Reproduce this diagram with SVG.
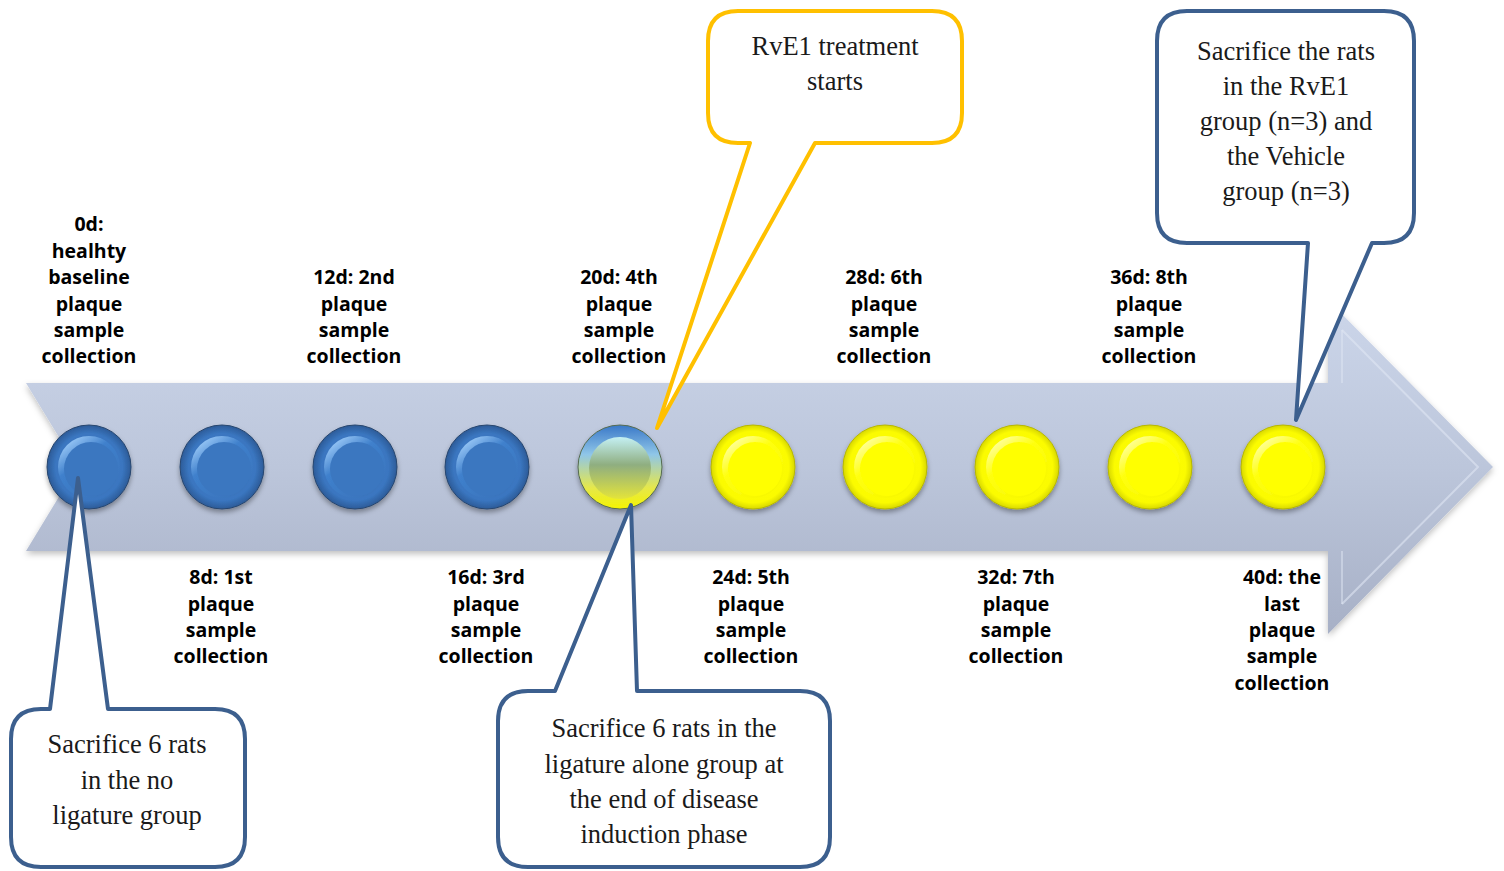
<svg xmlns="http://www.w3.org/2000/svg" width="1504" height="871" viewBox="0 0 1504 871">
<defs>
<linearGradient id="arrowG" x1="0" y1="0" x2="0" y2="1">
<stop offset="0" stop-color="#ccd6ea"/>
<stop offset="0.5" stop-color="#bcc6db"/>
<stop offset="1" stop-color="#a7b0c6"/>
</linearGradient>
<radialGradient id="blueOuter" cx="0.5" cy="0.5" r="0.5">
<stop offset="0" stop-color="#3d7bc8"/>
<stop offset="0.8" stop-color="#3a76c0"/>
<stop offset="1" stop-color="#2c5b98"/>
</radialGradient>
<linearGradient id="blueInner" x1="0.2" y1="0.1" x2="0.8" y2="0.9">
<stop offset="0" stop-color="#8fc0f2"/>
<stop offset="0.35" stop-color="#3f80cc"/>
<stop offset="1" stop-color="#3a75bd"/>
</linearGradient>
<radialGradient id="yelOuter" cx="0.5" cy="0.5" r="0.5">
<stop offset="0" stop-color="#ffff00"/>
<stop offset="0.85" stop-color="#fbfb00"/>
<stop offset="1" stop-color="#d8d800"/>
</radialGradient>
<linearGradient id="yelInner" x1="0.2" y1="0.1" x2="0.8" y2="0.9">
<stop offset="0" stop-color="#ffff90"/>
<stop offset="0.35" stop-color="#ffff10"/>
<stop offset="1" stop-color="#f8f800"/>
</linearGradient>
<linearGradient id="mixOuter" x1="0" y1="0" x2="0" y2="1">
<stop offset="0" stop-color="#3a78c8"/>
<stop offset="0.35" stop-color="#8fc6e8"/>
<stop offset="0.75" stop-color="#e6e84a"/>
<stop offset="1" stop-color="#f4f400"/>
</linearGradient>
<linearGradient id="mixInner" x1="0" y1="0" x2="0" y2="1">
<stop offset="0" stop-color="#c4f0f4"/>
<stop offset="0.45" stop-color="#8fae80"/>
<stop offset="1" stop-color="#e4e43a"/>
</linearGradient>
<filter id="sh" x="-20%" y="-20%" width="140%" height="150%">
<feDropShadow dx="0" dy="3" stdDeviation="2.5" flood-color="#000" flood-opacity="0.35"/>
</filter>
<filter id="ash" x="-5%" y="-15%" width="110%" height="130%">
<feDropShadow dx="0" dy="3" stdDeviation="3" flood-color="#000" flood-opacity="0.25"/>
</filter>
</defs>
<style>
.lbl{font-family:"Open Sans","Noto Sans","DejaVu Sans",sans-serif;font-weight:bold;font-size:19.5px;fill:#000;text-anchor:middle}
.ct{font-family:"Liberation Serif","Times New Roman",serif;font-size:26.5px;fill:#1a1a1a;text-anchor:middle}
.cb{fill:#fff;stroke:#3c5f8e;stroke-width:4;stroke-linejoin:round}
.cy{fill:#fff;stroke:#ffc000;stroke-width:4;stroke-linejoin:round}
.rim{stroke:#28466f;stroke-width:1}
.rimy{stroke:#b8b800;stroke-width:1}
</style>

<g id="timeline-arrow">
<polygon points="26,383 1328,383 1328,300 1493,467 1328,634 1328,551 26,551 77,467" fill="url(#arrowG)" filter="url(#ash)"/>
<polyline points="1342,330 1478,467 1342,604" fill="none" stroke="#dfe6f3" stroke-width="2" opacity="0.6"/>
<line x1="1342" y1="330" x2="1342" y2="383" stroke="#dfe6f3" stroke-width="2" opacity="0.5"/>
<line x1="1342" y1="551" x2="1342" y2="604" stroke="#dfe6f3" stroke-width="2" opacity="0.5"/>
</g>

<g id="dot-0d" filter="url(#sh)">
<circle cx="89" cy="467" r="42" fill="url(#blueOuter)" class="rim"/>
<circle cx="89" cy="467" r="31" fill="url(#blueInner)"/>
<circle cx="91" cy="469" r="27" fill="#3b77c0"/>
</g>
<g id="dot-8d" filter="url(#sh)">
<circle cx="222" cy="467" r="42" fill="url(#blueOuter)" class="rim"/>
<circle cx="222" cy="467" r="31" fill="url(#blueInner)"/>
<circle cx="224" cy="469" r="27" fill="#3b77c0"/>
</g>
<g id="dot-12d" filter="url(#sh)">
<circle cx="355" cy="467" r="42" fill="url(#blueOuter)" class="rim"/>
<circle cx="355" cy="467" r="31" fill="url(#blueInner)"/>
<circle cx="357" cy="469" r="27" fill="#3b77c0"/>
</g>
<g id="dot-16d" filter="url(#sh)">
<circle cx="487" cy="467" r="42" fill="url(#blueOuter)" class="rim"/>
<circle cx="487" cy="467" r="31" fill="url(#blueInner)"/>
<circle cx="489" cy="469" r="27" fill="#3b77c0"/>
</g>
<g id="dot-20d" filter="url(#sh)">
<circle cx="620" cy="467" r="42" fill="url(#mixOuter)" stroke="#556b50" stroke-width="1"/>
<circle cx="620" cy="468" r="31" fill="url(#mixInner)"/>
</g>
<g id="dot-24d" filter="url(#sh)">
<circle cx="753" cy="467" r="42" fill="url(#yelOuter)" class="rimy"/>
<circle cx="753" cy="467" r="31" fill="url(#yelInner)"/>
<circle cx="755" cy="469" r="27" fill="#ffff00"/>
</g>
<g id="dot-28d" filter="url(#sh)">
<circle cx="885" cy="467" r="42" fill="url(#yelOuter)" class="rimy"/>
<circle cx="885" cy="467" r="31" fill="url(#yelInner)"/>
<circle cx="887" cy="469" r="27" fill="#ffff00"/>
</g>
<g id="dot-32d" filter="url(#sh)">
<circle cx="1017" cy="467" r="42" fill="url(#yelOuter)" class="rimy"/>
<circle cx="1017" cy="467" r="31" fill="url(#yelInner)"/>
<circle cx="1019" cy="469" r="27" fill="#ffff00"/>
</g>
<g id="dot-36d" filter="url(#sh)">
<circle cx="1150" cy="467" r="42" fill="url(#yelOuter)" class="rimy"/>
<circle cx="1150" cy="467" r="31" fill="url(#yelInner)"/>
<circle cx="1152" cy="469" r="27" fill="#ffff00"/>
</g>
<g id="dot-40d" filter="url(#sh)">
<circle cx="1283" cy="467" r="42" fill="url(#yelOuter)" class="rimy"/>
<circle cx="1283" cy="467" r="31" fill="url(#yelInner)"/>
<circle cx="1285" cy="469" r="27" fill="#ffff00"/>
</g>

<g id="label-0d" class="lbl">
<text x="89" y="231">0d:</text>
<text x="89" y="258">healhty</text>
<text x="89" y="284">baseline</text>
<text x="89" y="311">plaque</text>
<text x="89" y="337">sample</text>
<text x="89" y="363">collection</text>
</g>
<g id="label-12d" class="lbl">
<text x="354" y="284">12d: 2nd</text>
<text x="354" y="311">plaque</text>
<text x="354" y="337">sample</text>
<text x="354" y="363">collection</text>
</g>
<g id="label-20d" class="lbl">
<text x="619" y="284">20d: 4th</text>
<text x="619" y="311">plaque</text>
<text x="619" y="337">sample</text>
<text x="619" y="363">collection</text>
</g>
<g id="label-28d" class="lbl">
<text x="884" y="284">28d: 6th</text>
<text x="884" y="311">plaque</text>
<text x="884" y="337">sample</text>
<text x="884" y="363">collection</text>
</g>
<g id="label-36d" class="lbl">
<text x="1149" y="284">36d: 8th</text>
<text x="1149" y="311">plaque</text>
<text x="1149" y="337">sample</text>
<text x="1149" y="363">collection</text>
</g>
<g id="label-8d" class="lbl">
<text x="221" y="584">8d: 1st</text>
<text x="221" y="611">plaque</text>
<text x="221" y="637">sample</text>
<text x="221" y="663">collection</text>
</g>
<g id="label-16d" class="lbl">
<text x="486" y="584">16d: 3rd</text>
<text x="486" y="611">plaque</text>
<text x="486" y="637">sample</text>
<text x="486" y="663">collection</text>
</g>
<g id="label-24d" class="lbl">
<text x="751" y="584">24d: 5th</text>
<text x="751" y="611">plaque</text>
<text x="751" y="637">sample</text>
<text x="751" y="663">collection</text>
</g>
<g id="label-32d" class="lbl">
<text x="1016" y="584">32d: 7th</text>
<text x="1016" y="611">plaque</text>
<text x="1016" y="637">sample</text>
<text x="1016" y="663">collection</text>
</g>
<g id="label-40d" class="lbl">
<text x="1282" y="584">40d: the</text>
<text x="1282" y="611">last</text>
<text x="1282" y="637">plaque</text>
<text x="1282" y="663">sample</text>
<text x="1282" y="690">collection</text>
</g>

<g id="connectors">
<path class="cb" d="M 41,709 L 50,709 L 78,478 L 108,709 L 215,709 Q 245,709 245,739 L 245,837 Q 245,867 215,867 L 41,867 Q 11,867 11,837 L 11,739 Q 11,709 41,709 Z"/>
<path class="cb" d="M 528,691 L 555,691 L 631,505 L 637,691 L 800,691 Q 830,691 830,721 L 830,837 Q 830,867 800,867 L 528,867 Q 498,867 498,837 L 498,721 Q 498,691 528,691 Z"/>
<path class="cy" d="M 738,11 L 932,11 Q 962,11 962,41 L 962,113 Q 962,143 932,143 L 815,143 L 657,428 L 750,143 L 738,143 Q 708,143 708,113 L 708,41 Q 708,11 738,11 Z"/>
<path class="cb" d="M 1187,11 L 1384,11 Q 1414,11 1414,41 L 1414,213 Q 1414,243 1384,243 L 1372,243 L 1296,420 L 1308,243 L 1187,243 Q 1157,243 1157,213 L 1157,41 Q 1157,11 1187,11 Z"/>
</g>

<g id="callout-no-ligature" class="ct">
<text x="127" y="753">Sacrifice 6 rats</text>
<text x="127" y="789">in the no</text>
<text x="127" y="824">ligature group</text>
</g>
<g id="callout-ligature-alone" class="ct">
<text x="664" y="737">Sacrifice 6 rats in the</text>
<text x="664" y="773">ligature alone group at</text>
<text x="664" y="808">the end of disease</text>
<text x="664" y="843">induction phase</text>
</g>
<g id="callout-rve1-start" class="ct">
<text x="835" y="55">RvE1 treatment</text>
<text x="835" y="90">starts</text>
</g>
<g id="callout-sacrifice-final" class="ct">
<text x="1286" y="60">Sacrifice the rats</text>
<text x="1286" y="95">in the RvE1</text>
<text x="1286" y="130">group (n=3) and</text>
<text x="1286" y="165">the Vehicle</text>
<text x="1286" y="200">group (n=3)</text>
</g>
</svg>
